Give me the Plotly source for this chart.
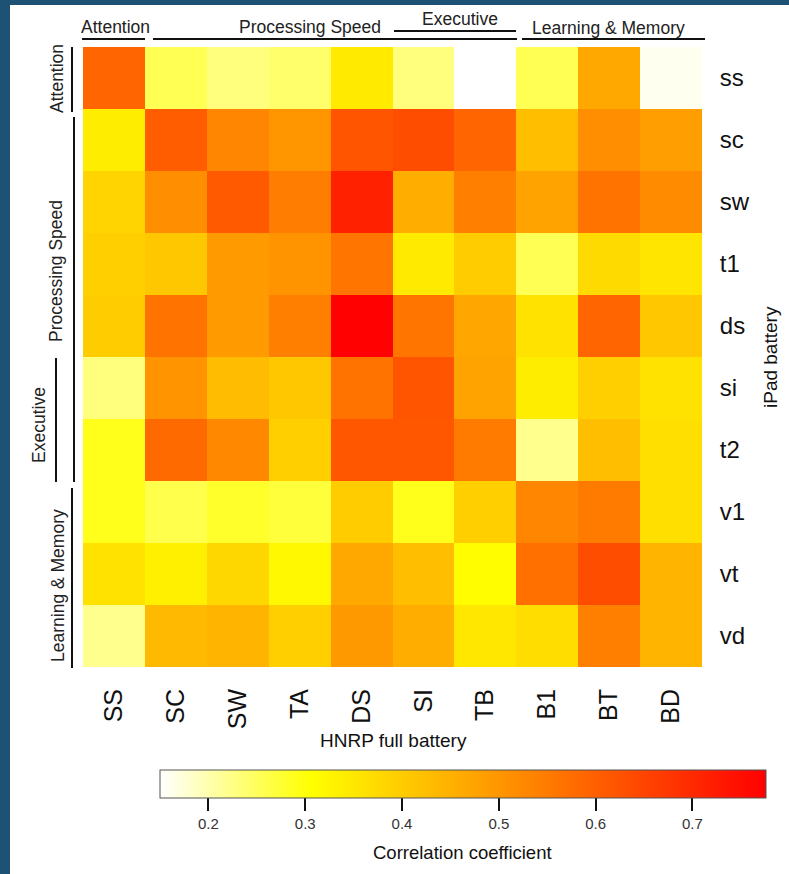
import plotly.graph_objects as go

# ---- data ----
hnrp_tests = ["SS", "SC", "SW", "TA", "DS", "SI", "TB", "B1", "BT", "BD"]
ipad_tests = ["ss", "sc", "sw", "t1", "ds", "si", "t2", "v1", "vt", "vd"]

row_ss = [0.59, 0.255, 0.23, 0.24, 0.345, 0.23, 0.15, 0.255, 0.465, 0.16]
row_sc = [0.34, 0.605, 0.53, 0.50, 0.62, 0.635, 0.59, 0.425, 0.515, 0.485]
row_sw = [0.385, 0.515, 0.61, 0.545, 0.715, 0.455, 0.54, 0.475, 0.565, 0.52]
row_t1 = [0.395, 0.41, 0.49, 0.505, 0.56, 0.345, 0.40, 0.255, 0.375, 0.355]
row_ds = [0.40, 0.565, 0.49, 0.54, 0.775, 0.56, 0.47, 0.36, 0.59, 0.41]
row_si = [0.23, 0.505, 0.43, 0.41, 0.565, 0.62, 0.475, 0.34, 0.395, 0.36]
row_t2 = [0.29, 0.58, 0.525, 0.395, 0.615, 0.615, 0.55, 0.22, 0.425, 0.365]
row_v1 = [0.29, 0.26, 0.28, 0.27, 0.40, 0.29, 0.395, 0.53, 0.55, 0.365]
row_vt = [0.36, 0.335, 0.38, 0.32, 0.465, 0.425, 0.31, 0.57, 0.635, 0.445]
row_vd = [0.22, 0.435, 0.445, 0.395, 0.495, 0.455, 0.35, 0.37, 0.54, 0.445]

colorbar_ticks = [0.2, 0.3, 0.4, 0.5, 0.6, 0.7]

# domain groups (top: HNRP columns, left: iPad rows)
top_groups = [("Attention", 115, 27), ("Processing Speed", 310, 27),
              ("Executive", 460, 19), ("Learning & Memory", 608, 28)]
left_groups = [("Attention", 57, 79), ("Processing Speed", 56, 271),
               ("Executive", 39, 425), ("Learning & Memory", 58, 586)]

z = [row_ss, row_sc, row_sw, row_t1, row_ds, row_si, row_t2, row_v1, row_vt, row_vd]

# ---- layout geometry (pixels) ----
W, H = 789, 874
L, R, T, B = 83, 702, 47, 667
PW, PH = R - L, B - T


def px(x):
    return (x - L) / PW


def py(y):
    return (B - y) / PH


FONT = "Liberation Sans, Arial, Helvetica, sans-serif"

fig = go.Figure(go.Heatmap(
    z=z, x=hnrp_tests, y=ipad_tests,
    zmin=0.15, zmax=0.776,
    colorscale=[[0, "#FFFFFF"], [0.25, "#FFFF00"], [1, "#FF0000"]],
    xgap=0, ygap=0,
    colorbar=dict(
        orientation="h",
        x=px(463), xanchor="center",
        y=py(770), yanchor="top",
        len=606, lenmode="pixels",
        thickness=28, thicknessmode="pixels",
        xpad=0, ypad=0,
        outlinewidth=1, outlinecolor="#555555",
        tickvals=colorbar_ticks,
        ticktext=[f"{v:.1f}" for v in colorbar_ticks],
        ticks="outside", ticklen=13, tickwidth=2, tickcolor="#111111",
        tickfont=dict(size=15, color="#333333", family=FONT),
    ),
))

shapes = []
# white canvas over blue page background
shapes.append(dict(type="rect", xref="paper", yref="paper",
                   x0=px(10), x1=px(W + 20), y0=py(H + 20), y1=py(5),
                   fillcolor="white", line=dict(width=0), layer="below"))

line_style = dict(color="#111111", width=2)
# top bracket lines
for x0, x1, y in [(82, 145, 39), (153, 517, 39), (522, 705, 39), (394, 516, 31)]:
    shapes.append(dict(type="line", xref="paper", yref="paper",
                       x0=px(x0), x1=px(x1), y0=py(y), y1=py(y), line=line_style))
# left bracket lines
for x, y0, y1 in [(72, 47, 112), (74, 117, 482), (56, 358, 482), (72, 488, 668)]:
    shapes.append(dict(type="line", xref="paper", yref="paper",
                       x0=px(x), x1=px(x), y0=py(y0), y1=py(y1), line=line_style))

annotations = []
for text, x, y in top_groups:
    annotations.append(dict(text=text, x=px(x), y=py(y), xref="paper", yref="paper",
                            showarrow=False, xanchor="center", yanchor="middle",
                            font=dict(size=17.5, color="#222222", family=FONT)))
for text, x, y in left_groups:
    annotations.append(dict(text=text, x=px(x), y=py(y), xref="paper", yref="paper",
                            showarrow=False, xanchor="center", yanchor="middle",
                            textangle=-90,
                            font=dict(size=17.5, color="#222222", family=FONT)))
# axis titles
annotations.append(dict(text="HNRP full battery", x=px(393), y=py(740),
                        xref="paper", yref="paper", showarrow=False,
                        xanchor="center", yanchor="middle",
                        font=dict(size=19, color="#111111", family=FONT)))
annotations.append(dict(text="iPad battery", x=px(770), y=py(357),
                        xref="paper", yref="paper", showarrow=False,
                        xanchor="center", yanchor="middle", textangle=-90,
                        font=dict(size=19, color="#111111", family=FONT)))
# colour bar title
annotations.append(dict(text="Correlation coefficient", x=px(463), y=py(852),
                        xref="paper", yref="paper", showarrow=False,
                        xanchor="center", yanchor="middle",
                        font=dict(size=18.5, color="#111111", family=FONT)))

fig.update_layout(
    width=W, height=H,
    margin=dict(l=L, r=W - R, t=T, b=H - B, autoexpand=False),
    paper_bgcolor="#1e5275",
    plot_bgcolor="white",
    font=dict(family=FONT, color="#111111"),
    shapes=shapes,
    annotations=annotations,
    xaxis=dict(type="category", categoryorder="array", categoryarray=hnrp_tests,
               tickangle=-90, ticks="outside", ticklen=11, tickcolor="rgba(0,0,0,0)",
               tickfont=dict(size=25, color="#111111", family=FONT),
               showgrid=False, zeroline=False, showline=False, fixedrange=True),
    yaxis=dict(type="category", categoryorder="array", categoryarray=ipad_tests,
               autorange="reversed", side="right",
               ticks="outside", ticklen=12, tickcolor="rgba(0,0,0,0)",
               tickfont=dict(size=24, color="#111111", family=FONT),
               showgrid=False, zeroline=False, showline=False, fixedrange=True),
)

fig.write_html(
    "out.html",
    config={"displayModeBar": False},
    post_script="document.body.style.margin='0';document.body.style.overflow='hidden';",
)
